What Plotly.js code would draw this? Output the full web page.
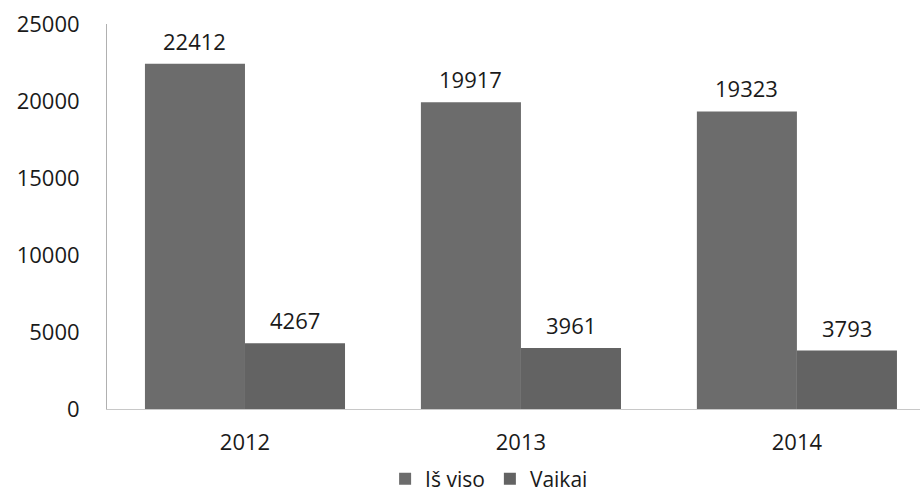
<!DOCTYPE html>
<html>
<head>
<meta charset="utf-8">
<script src="https://cdn.plot.ly/plotly-3.0.1.min.js"></script>
<style>html,body{margin:0;padding:0;background:#fff;}#chart{width:923px;height:497px;}</style>
</head>
<body>
<div id="chart"></div>
<script>
const years = ['2012', '2013', '2014'];
const seriesNames = ['Iš viso', 'Vaikai'];
const isViso = [22412, 19917, 19323];
const vaikai = [4267, 3961, 3793];
const yTicks = [0, 5000, 10000, 15000, 20000, 25000];

function mkFont() { return {family: '"Open Sans", "DejaVu Sans", sans-serif', size: 22, color: '#1a1a1a'}; }

const traces = [
  {type: 'bar', name: seriesNames[0], x: years, y: isViso,
   marker: {color: '#6c6c6c', line: {width: 0}}, hoverinfo: 'none'},
  {type: 'bar', name: seriesNames[1], x: years, y: vaikai,
   marker: {color: '#636363', line: {width: 0}}, hoverinfo: 'none'}
];

const annotations = [];
years.forEach((yr, i) => {
  annotations.push({xref: 'x', yref: 'y', x: i, y: isViso[i], text: String(isViso[i]), showarrow: false,
    xshift: -50, yshift: 6, xanchor: 'center', yanchor: 'bottom', font: mkFont()});
  annotations.push({xref: 'x', yref: 'y', x: i, y: vaikai[i], text: String(vaikai[i]), showarrow: false,
    xshift: 50, yshift: 6, xanchor: 'center', yanchor: 'bottom', font: mkFont()});
});

const legendFont = mkFont();
legendFont.size = 21;

const layout = {
  width: 923, height: 497,
  margin: {l: 107, r: 3, t: 24, b: 88},
  paper_bgcolor: '#fff', plot_bgcolor: '#fff',
  font: mkFont(),
  barmode: 'group', bargap: 0.275, bargroupgap: 0,
  showlegend: true,
  legend: {orientation: 'h', x: 0.47, xanchor: 'center', xref: 'paper', yref: 'container', y: 0.036, yanchor: 'middle',
    font: legendFont, traceorder: 'normal', itemwidth: 30, tracegroupgap: 0},
  xaxis: {type: 'category', range: [-0.5, 2.446], showgrid: false, zeroline: false,
    showline: true, linecolor: '#c8c8c8', linewidth: 1, ticks: '', ticklabelstandoff: 14,
    tickfont: mkFont(), fixedrange: true},
  yaxis: {range: [0, 25000], tickvals: yTicks, ticktext: yTicks.map(String), showgrid: false,
    zeroline: false, showline: true, linecolor: '#b0b0b0', linewidth: 1, ticks: '',
    ticklabelstandoff: 22, tickfont: mkFont(), fixedrange: true},
  annotations: annotations
};

Plotly.newPlot('chart', traces, layout, {displayModeBar: false, staticPlot: true});
</script>
</body>
</html>
